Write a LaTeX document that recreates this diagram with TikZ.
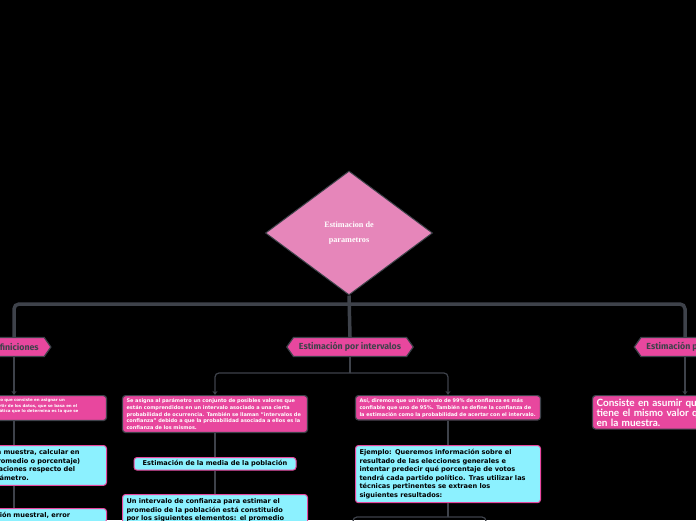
\documentclass[tikz,border=0pt]{standalone}
\usepackage{fontspec}
\usetikzlibrary{shapes.geometric,shapes.symbols,arrows.meta}
\setmainfont{DejaVu Sans}
\newfontfamily\hexfont{Fira Sans}
\newfontfamily\roundfont{Lato}
\newfontfamily\titlefont{Liberation Serif}
\definecolor{linegray}{HTML}{3E424A}
\definecolor{hotpink}{HTML}{E8479E}
\definecolor{softpink}{HTML}{E686BA}
\definecolor{skycyan}{HTML}{8CF1FF}

\begin{document}
\begin{tikzpicture}[x=1pt,y=-1pt,
  hexnode/.style={signal,signal to=west and east,signal pointer angle=110,fill=hotpink,draw=linegray,line width=1.2pt,text=linegray,font=\hexfont\bfseries\fontsize{8.8}{10}\selectfont,minimum height=19pt,inner xsep=5.5pt,inner ysep=0pt},
  pinkbox/.style={rectangle,rounded corners=3pt,fill=hotpink,draw=linegray,line width=1.2pt,text=white,align=left,text width=177pt,inner xsep=4pt,inner ysep=3pt,anchor=north},
  cyanbox/.style={rectangle,rounded corners=3pt,fill=skycyan,draw=hotpink,line width=1pt,text=black,align=left,text width=177pt,inner xsep=4pt,inner ysep=4pt,anchor=north,font=\bfseries\fontsize{6.6}{8.5}\selectfont},
  bus/.style={linegray,line width=3.5pt,rounded corners=5pt},
  link/.style={linegray,line width=1.2pt},
  arrowlink/.style={link,-{Stealth[length=4pt,width=5pt]}}]
  \fill[black] (0,0) rectangle (696,520);
  \clip (0,0) rectangle (696,520);

  % main topic and the three branches
  \node[diamond,fill=softpink,draw=linegray,line width=1pt,minimum width=167pt,minimum height=124pt,inner sep=0pt,text=white,align=center,font=\titlefont\bfseries\fontsize{8.2}{15}\selectfont] (root) at (349,233) {Estimacion de\\parametros};
  \node[hexnode] (defs) at (14,347) {Definiciones};
  \node[hexnode] (interval) at (350,347) {Estimación por intervalos};
  \node[hexnode] (punctual) at (685,347) {Estimación puntual};
  \coordinate (busline) at (0,304);
  \draw[bus] (defs.north) -- (defs.north |- busline) -- (punctual.north |- busline) -- (punctual.north);
  \draw[bus] (root.south) -- (interval.north);

  % Definiciones
  \node[pinkbox,font=\bfseries\fontsize{4}{5.2}\selectfont] (defsnote) at (14,395) {Estimación puntual: es un método que consiste en asignar un\\valor concreto al parámetro a partir de los datos, que se basa en el\\resultado de una fórmula matemática que lo determina es la que se\\denomina el estimador.};
  \node[cyanbox] (sample) at (14,445) {Tras seleccionar una muestra, calcular en\\ella el estimador (promedio o porcentaje)\\y luego hacer estimaciones respecto del\\valor exacto del parámetro.};
  \node[cyanbox] (error) at (14,508) {Conocer la distribución muestral, error};
  \draw[arrowlink] (defs) -- (defsnote);
  \draw[link] (defsnote) -- (sample);
  \draw[link] (sample) -- (error);

  % Estimacion por intervalos
  \node[pinkbox,font=\bfseries\fontsize{5}{6.7}\selectfont] (meaning) at (215,395) {Se asigna al parámetro un conjunto de posibles valores que\\están comprendidos en un intervalo asociado a una cierta\\probabilidad de ocurrencia. También se llaman "intervalos de\\confianza" debido a que la probabilidad asociada a ellos es la\\confianza de los mismos.};
  \node[pinkbox,font=\bfseries\fontsize{5}{6.7}\selectfont] (trust) at (448,395) {Así, diremos que un intervalo de 99\% de confianza es más\\confiable que uno de 95\%. También se define la confianza de\\la estimación como la probabilidad de acertar con el intervalo.};
  \coordinate (split) at (350,373);
  \draw[link] (interval) -- (split);
  \draw[arrowlink,rounded corners=4pt] (split) -| (meaning);
  \draw[arrowlink,rounded corners=4pt] (split) -| (trust);

  \node[cyanbox,text width=154pt,align=center,inner ysep=3pt] (media) at (215,457) {Estimación de la media de la población};
  \node[cyanbox] (confidence) at (215,494) {Un intervalo de confianza para estimar el\\promedio de la población está constituido\\por los siguientes elementos: el promedio};
  \draw[link] (meaning) -- (media);
  \draw[link] (media) -- (confidence);

  \node[cyanbox] (example) at (448,445) {Ejemplo: Queremos información sobre el\\resultado de las elecciones generales e\\intentar predecir qué porcentaje de votos\\tendrá cada partido político. Tras utilizar las\\técnicas pertinentes se extraen los\\siguientes resultados:};
  \coordinate (lowsplit) at (448,517);
  \coordinate (lowleft) at (353,530);
  \coordinate (lowright) at (486,530);
  \draw[link] (trust) -- (example);
  \draw[link] (example) -- (lowsplit);
  \draw[link,rounded corners=4pt] (lowsplit) -| (lowleft);
  \draw[link,rounded corners=4pt] (lowsplit) -| (lowright);

  % Estimacion puntual
  \node[pinkbox,font=\roundfont\bfseries\fontsize{10}{10}\selectfont] (assume) at (685,395) {Consiste en asumir que el parámetro\\tiene el mismo valor que el estadístico\\en la muestra.};
  \draw[arrowlink] (punctual) -- (assume);
\end{tikzpicture}
\end{document}
